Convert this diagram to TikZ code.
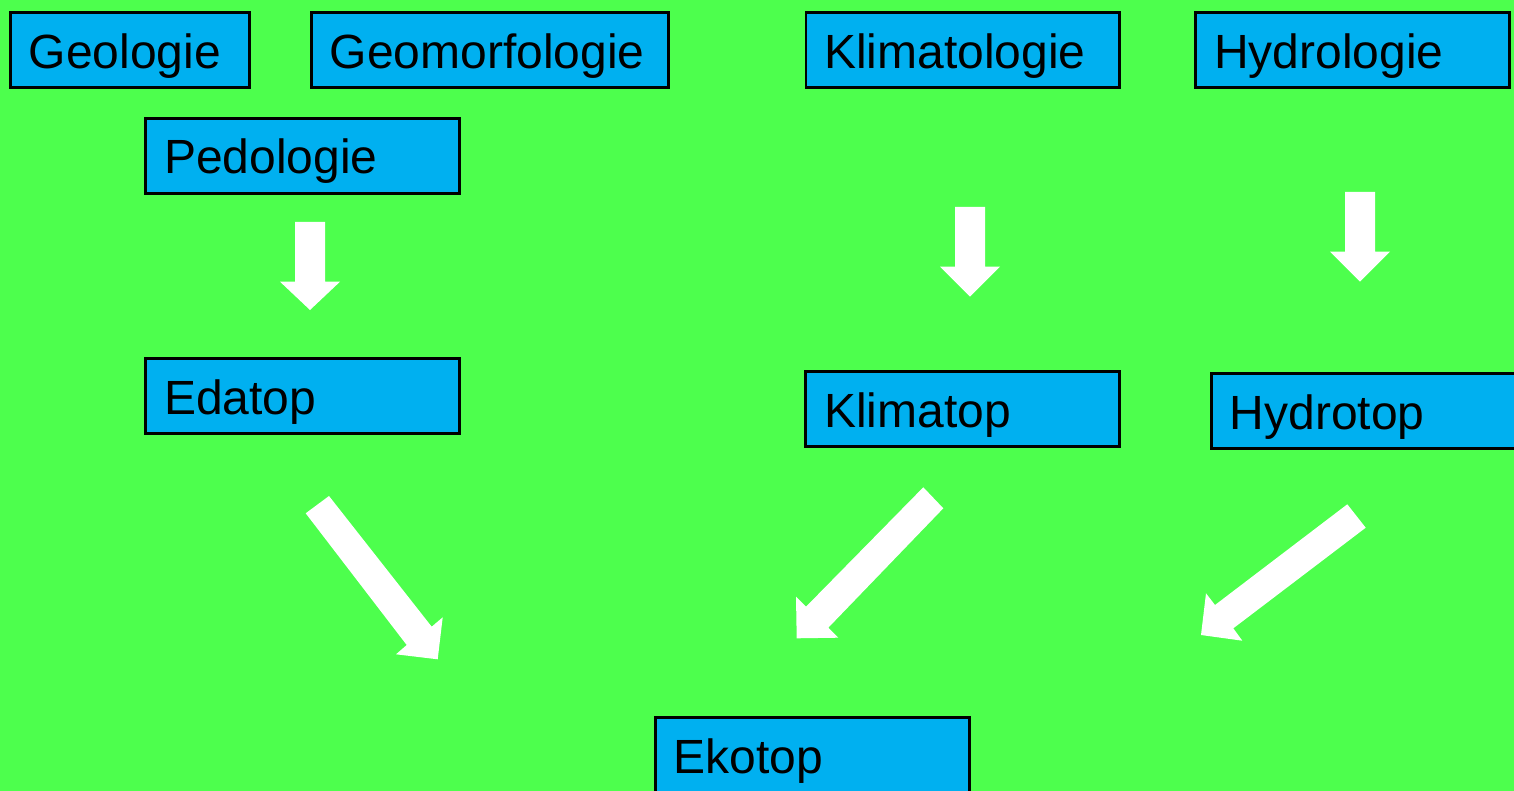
\documentclass[tikz,border=0pt]{standalone}
\usepackage{fontspec}
\setmainfont{Liberation Sans}
\usetikzlibrary{calc}
\definecolor{bg}{RGB}{77,255,77}
\definecolor{boxblue}{RGB}{0,176,240}
\tikzset{
  box/.style={draw=black, fill=boxblue, line width=2.8pt, rectangle, inner sep=0pt, outer sep=0pt, anchor=north west, minimum height=75pt},
  lbl/.style={anchor=base west, inner sep=0pt, text=black, font=\fontsize{48}{57}\selectfont},
  blockarrow/.style={fill=white, draw=none},
}
\begin{document}
\begin{tikzpicture}[x=1pt,y=-1pt]
\clip (0,0) rectangle (1514,791);
\fill[bg] (0,0) rectangle (1514,791);

% boxes
\node[box, minimum width=239pt]   (geo)   at (10.5,12.5)  {};
\node[box, minimum width=357pt]   (geom)  at (311.5,12.5) {};
\node[box, minimum width=313.5pt] (klimo) at (806,12.5)   {};
\node[box, minimum width=313.7pt] (hydro) at (1195.8,12.5){};
\node[box, minimum width=313.7pt] (ped)   at (145.8,118.2){};
\node[box, minimum width=313.7pt] (eda)   at (145.8,358.5){};
\node[box, minimum width=313.7pt] (klimt) at (805.8,371.5){};
\node[box, minimum width=320pt]   (hydt)  at (1211.5,373.2){};
\node[box, minimum width=314pt]   (eko)   at (655.5,717.2){};

% labels
\node[lbl] (geoT)   at ($(geo.north west)+(18,55.8)$)   {Geologie};
\node[lbl] (geomT)  at ($(geom.north west)+(18,55.8)$)  {Geomorfologie};
\node[lbl] (klimoT) at ($(klimo.north west)+(18,55.8)$) {Klimatologie};
\node[lbl] (hydroT) at ($(hydro.north west)+(18,55.8)$) {Hydrologie};
\node[lbl] (pedT)   at ($(ped.north west)+(18,55.8)$)   {Pedologie};
\node[lbl] (edaT)   at ($(eda.north west)+(18,55.8)$)   {Edatop};
\node[lbl] (klimtT) at ($(klimt.north west)+(18,55.8)$) {Klimatop};
\node[lbl] (hydtT)  at ($(hydt.north west)+(18,55.8)$)  {Hydrotop};
\node[lbl] (ekoT)   at ($(eko.north west)+(18,55.8)$)   {Ekotop};

% down block arrows
\fill[blockarrow] (295,222) -- (325,222) -- (325,281.7) -- (340,281.7) -- (310,310) -- (280,281.7) -- (295,281.7) -- cycle;
\fill[blockarrow] (955,207) -- (985,207) -- (985,266.7) -- (1000,266.7) -- (970,296.7) -- (940,266.7) -- (955,266.7) -- cycle;
\fill[blockarrow] (1345,192) -- (1375,192) -- (1375,251.7) -- (1390,251.7) -- (1360,281.7) -- (1330,251.7) -- (1345,251.7) -- cycle;

% diagonal block arrows
\fill[blockarrow] (329,496) -- (431.7,626.7) -- (442.7,617.3) -- (437.7,659.3) -- (396,654.3) -- (406.7,645) -- (305.7,513.3) -- cycle;
\fill[blockarrow] (923.3,487.3) -- (943.3,508.3) -- (828.3,627.7) -- (838.3,637.7) -- (796.7,638.3) -- (796,596.7) -- (806,606.7) -- cycle;
\fill[blockarrow] (1347.3,504.3) -- (1365.7,527.7) -- (1233.3,628.3) -- (1242.3,640.7) -- (1201,635) -- (1206,593.3) -- (1215,605) -- cycle;
\end{tikzpicture}
\end{document}
